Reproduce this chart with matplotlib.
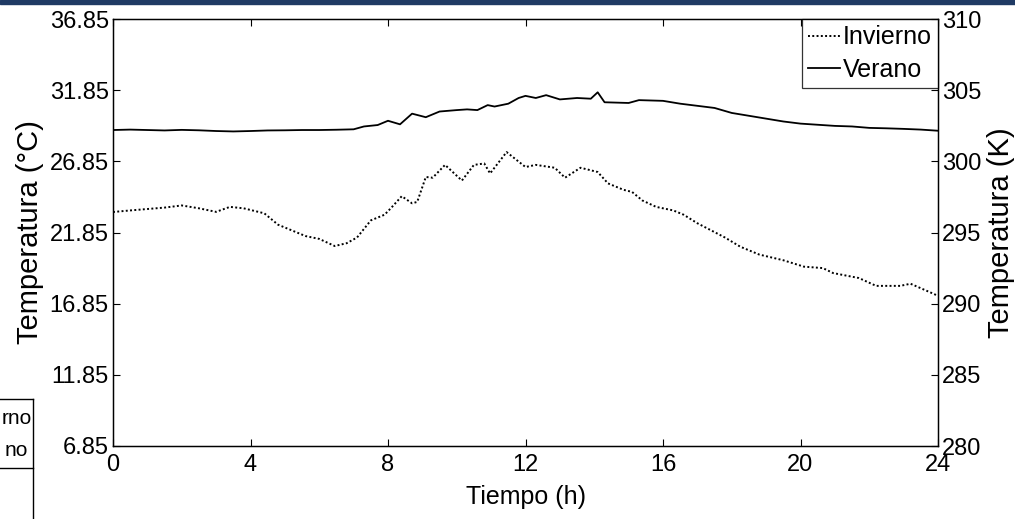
import matplotlib
matplotlib.use("Agg")
import matplotlib.pyplot as plt
from matplotlib.patches import Rectangle
from matplotlib.lines import Line2D

plt.rcParams["font.family"] = ["Liberation Sans", "DejaVu Sans"]

# ── datos ───────────────────────────────────────────────────────────────────
hora_inv = [0, 0.5, 1, 1.5, 2, 2.5, 3, 3.4, 3.8, 4.4, 4.8, 5.2, 5.6, 6.0,
            6.45, 6.8, 7.1, 7.5, 7.9, 8.1, 8.4, 8.7, 8.85, 9.1, 9.3, 9.66,
            10.15, 10.5, 10.8, 10.97, 11.45, 12.0, 12.3, 12.85, 13.15, 13.6,
            14.1, 14.4, 14.85, 15.1, 15.4, 15.8, 16.3, 16.6, 17.0, 17.4, 17.8,
            18.25, 18.8, 19.5, 20.1, 20.65, 20.95, 21.7, 22.2, 22.9, 23.2,
            23.77, 24]
temp_inv = [23.29, 23.4, 23.5, 23.6, 23.75, 23.55, 23.3, 23.65, 23.55, 23.2,
            22.4, 22.0, 21.6, 21.4, 20.9, 21.1, 21.5, 22.7, 23.1, 23.6, 24.4,
            23.9, 24.0, 25.75, 25.7, 26.6, 25.5, 26.6, 26.7, 26.0, 27.5, 26.45,
            26.6, 26.4, 25.7, 26.4, 26.1, 25.3, 24.85, 24.7, 24.1, 23.65, 23.4,
            23.1, 22.5, 22.0, 21.5, 20.85, 20.3, 19.9, 19.45, 19.35, 19.0,
            18.65, 18.1, 18.1, 18.25, 17.65, 17.4]

hora_ver = [0, 0.5, 1, 1.5, 2, 2.5, 3, 3.5, 4, 4.5, 5, 5.5, 6, 6.5, 7, 7.3,
            7.7, 8, 8.35, 8.7, 9.1, 9.5, 10, 10.3, 10.6, 10.9, 11.1, 11.5,
            11.8, 12.0, 12.3, 12.6, 13.0, 13.5, 13.9, 14.1, 14.3, 15.0, 15.3,
            16, 16.5, 17, 17.5, 18, 18.5, 19, 19.5, 20, 20.5, 21, 21.5, 22,
            22.5, 23, 23.5, 24]
temp_ver = [29.05, 29.08, 29.05, 29.02, 29.06, 29.03, 28.98, 28.95, 28.98,
            29.02, 29.03, 29.05, 29.05, 29.07, 29.1, 29.3, 29.4, 29.7, 29.45,
            30.2, 29.95, 30.35, 30.45, 30.5, 30.45, 30.8, 30.7, 30.9, 31.3,
            31.45, 31.3, 31.5, 31.2, 31.3, 31.25, 31.7, 31.0, 30.95, 31.15,
            31.1, 30.9, 30.75, 30.6, 30.25, 30.05, 29.85, 29.65, 29.5, 29.42,
            29.34, 29.3, 29.2, 29.17, 29.13, 29.08, 29.0]

xticks = [0, 4, 8, 12, 16, 20, 24]
yticks_c = [6.85, 11.85, 16.85, 21.85, 26.85, 31.85, 36.85]
yticks_k = [280, 285, 290, 295, 300, 305, 310]

W, H = 1015, 519
FS = 17

fig = plt.figure(figsize=(W / 100, H / 100), dpi=100)
ax = fig.add_axes([113 / W, 1 - 446 / H, 825 / W, 427 / H])

ax.plot(hora_inv, temp_inv, color="black", lw=1.4, linestyle=(0, (1, 1.2)),
        label="Invierno")
ax.plot(hora_ver, temp_ver, color="black", lw=1.3, label="Verano")

ax.set_xlim(0, 24)
ax.set_ylim(6.85, 36.85)
ax.set_xticks(xticks)
ax.set_xticklabels([str(t) for t in xticks], fontsize=FS, color="#111111")
ax.set_yticks(yticks_c)
ax.set_yticklabels([f"{v:.2f}" for v in yticks_c], fontsize=FS)
ax.tick_params(direction="in", length=5, width=0.8, top=True, right=False,
               pad=3, colors="black")
ax.tick_params(axis="x", pad=6)
for sp in ax.spines.values():
    sp.set_linewidth(1.0)

ax.set_xlabel("Tiempo (h)", fontsize=18, labelpad=6)
ax.set_ylabel("Temperatura (°C)", fontsize=21, labelpad=4)

ax2 = ax.twinx()
ax2.set_ylim(280, 310)
ax2.set_yticks(yticks_k)
ax2.set_yticklabels([str(v) for v in yticks_k], fontsize=FS)
ax2.tick_params(direction="in", length=5, width=0.8, pad=3)
ax2.set_ylabel("Temperatura (K)", fontsize=21, labelpad=4)

leg = ax.legend(loc="upper right", bbox_to_anchor=(1.0, 1.0), fontsize=FS + 1,
                frameon=True, fancybox=False, edgecolor="black",
                borderaxespad=0, handlelength=1.3, handletextpad=0.1,
                borderpad=0.25, labelspacing=0.35)
leg.get_frame().set_linewidth(0.9)

# franja superior (cabecera de la diapositiva)
fig.patches.append(Rectangle((0, 1 - 4 / H), 1, 4 / H, transform=fig.transFigure,
                             color="#1f3a64", zorder=10))

# resto de otra leyenda recortada a la izquierda
fx = lambda px: px / W
fy = lambda py: 1 - py / H
fig.add_artist(Line2D([0, fx(33)], [fy(399), fy(399)], color="black", lw=1))
fig.add_artist(Line2D([0, fx(33)], [fy(468), fy(468)], color="black", lw=1))
fig.add_artist(Line2D([fx(33), fx(33)], [fy(399), 0], color="black", lw=1))
fig.text(fx(31.5), fy(419), "rno", ha="right", va="center", fontsize=15)
fig.text(fx(28), fy(450), "no", ha="right", va="center", fontsize=15)

fig.savefig("out.png", dpi=100)
